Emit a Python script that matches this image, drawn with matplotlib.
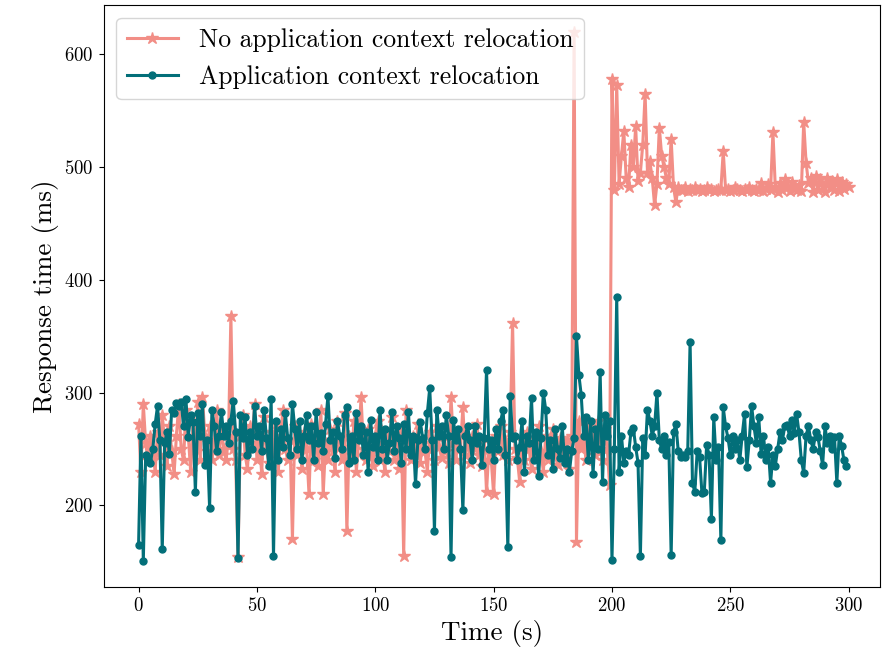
import numpy as np
import matplotlib
matplotlib.use("Agg")
import matplotlib.pyplot as plt

plt.rcParams['font.family'] = 'serif'
plt.rcParams['font.serif'] = ['cmr10']
plt.rcParams['mathtext.fontset'] = 'cm'
plt.rcParams['axes.unicode_minus'] = False
plt.rcParams['axes.formatter.use_mathtext'] = True

# response time (ms), one sample per second
no_reloc = [
    272, 230, 290, 255, 240, 262, 248, 230, 265, 245,
    280, 258, 235, 270, 248, 228, 262, 290, 250, 240,
    285, 262, 230, 275, 250, 292, 240, 296, 262, 248,
    270, 240, 258, 285, 245, 268, 250, 240, 262, 368,
    250, 240, 154, 262, 280, 245, 232, 270, 255, 290,
    240, 262, 228, 278, 250, 238, 265, 245, 272, 230,
    262, 285, 250, 240, 258, 170, 270, 245, 258, 232,
    265, 250, 210, 272, 240, 262, 235, 285, 210, 255,
    240, 268, 248, 230, 275, 252, 240, 282, 177, 262,
    245, 275, 230, 258, 296, 250, 240, 268, 248, 235,
    262, 275, 240, 255, 230, 265, 248, 278, 240, 255,
    232, 268, 155, 285, 250, 240, 262, 245, 272, 238,
    255, 248, 230, 265, 250, 240, 270, 252, 242, 262,
    248, 238, 296, 255, 240, 265, 250, 287, 245, 260,
    238, 262, 250, 272, 245, 235, 260, 212, 250, 240,
    210, 262, 248, 270, 245, 258, 240, 265, 362, 250,
    242, 221, 258, 240, 265, 250, 232, 260, 245, 270,
    248, 230, 262, 240, 255, 268, 245, 236, 260, 250,
    240, 258, 232, 262, 620, 168, 275, 250, 262, 240,
    270, 255, 265, 245, 275, 258, 240, 268, 250, 218,
    578, 480, 573, 485, 510, 532, 490, 482, 520, 500,
    536, 488, 495, 520, 565, 495, 505, 490, 466, 485,
    535, 510, 500, 490, 485, 525, 482, 469, 482, 480,
    480, 482, 479, 481, 480, 482, 480, 481, 479, 480,
    482, 480, 481, 479, 480, 481, 480, 514, 480, 481,
    479, 480, 482, 481, 480, 479, 481, 480, 482, 480,
    479, 481, 480, 486, 479, 481, 485, 480, 531, 482,
    478, 486, 480, 489, 482, 479, 487, 481, 480, 484,
    479, 540, 504, 486, 490, 478, 492, 480, 489, 483,
    478, 490, 482, 488, 480, 489, 479, 487, 481, 485,
    482,
]

with_reloc = [
    165, 262, 151, 245, 240, 238, 250, 272, 288, 258,
    161, 255, 265, 246, 285, 282, 291, 288, 292, 270,
    294, 261, 280, 274, 212, 282, 262, 290, 236, 258,
    198, 285, 270, 248, 262, 283, 262, 270, 255, 275,
    293, 265, 153, 280, 260, 278, 245, 265, 250, 288,
    262, 270, 248, 285, 260, 235, 294, 155, 275, 240,
    268, 252, 282, 260, 245, 290, 268, 250, 275, 240,
    262, 280, 258, 270, 240, 283, 255, 264, 248, 272,
    297, 258, 265, 242, 275, 262, 250, 280, 287, 238,
    262, 240, 282, 258, 270, 245, 265, 230, 276, 252,
    262, 240, 285, 250, 268, 240, 255, 283, 248, 270,
    260, 238, 272, 250, 283, 245, 262, 219, 258, 274,
    260, 250, 282, 304, 258, 177, 285, 262, 270, 250,
    280, 262, 154, 276, 258, 268, 250, 196, 262, 270,
    258, 240, 270, 255, 262, 236, 260, 320, 250, 258,
    240, 268, 250, 275, 285, 245, 163, 297, 260, 262,
    240, 252, 275, 230, 262, 255, 295, 240, 265, 226,
    260, 300, 285, 245, 258, 232, 268, 250, 242, 270,
    238, 250, 230, 248, 260, 350, 316, 298, 262, 278,
    240, 275, 228, 268, 250, 318, 221, 280, 262, 275,
    152, 250, 385, 230, 262, 238, 248, 245, 265, 269,
    252, 238, 155, 260, 245, 285, 275, 262, 270, 300,
    258, 250, 262, 245, 256, 156, 265, 272, 248, 243,
    245, 243, 248, 345, 220, 212, 248, 243, 211, 212,
    254, 245, 188, 278, 240, 252, 169, 287, 270, 260,
    245, 262, 250, 258, 240, 262, 281, 234, 258, 288,
    270, 255, 278, 246, 262, 240, 252, 220, 245, 235,
    250, 265, 258, 270, 271, 262, 276, 264, 281, 265,
    240, 229, 262, 270, 258, 250, 265, 261, 248, 236,
    270, 255, 262, 250, 261, 220, 262, 253, 240, 235,
]

t_no = np.arange(len(no_reloc))
t_with = np.arange(len(with_reloc))

pink = '#f28e86'
teal = '#036f79'

fig, ax = plt.subplots(figsize=(8.85, 6.59), dpi=100)
fig.subplots_adjust(left=0.117, right=0.994, top=0.992, bottom=0.109)

ax.plot(t_no, no_reloc, color=pink, marker='*', markersize=9, linewidth=2.2,
        label='No application context relocation')
ax.plot(t_with, with_reloc, color=teal, marker='o', markersize=5, linewidth=2.2,
        label='Application context relocation')

ax.set_xlim(-14.8, 313.1)
ax.set_xlabel('Time (s)', fontsize=19.5)
ax.set_ylabel('Response time (ms)', fontsize=19.5)
ax.tick_params(labelsize=13.5)
ax.set_xticks([0, 50, 100, 150, 200, 250, 300])
ax.set_yticks([200, 300, 400, 500, 600])
ax.legend(loc='upper left', fontsize=18.5)

fig.savefig('out.png', dpi=100)
